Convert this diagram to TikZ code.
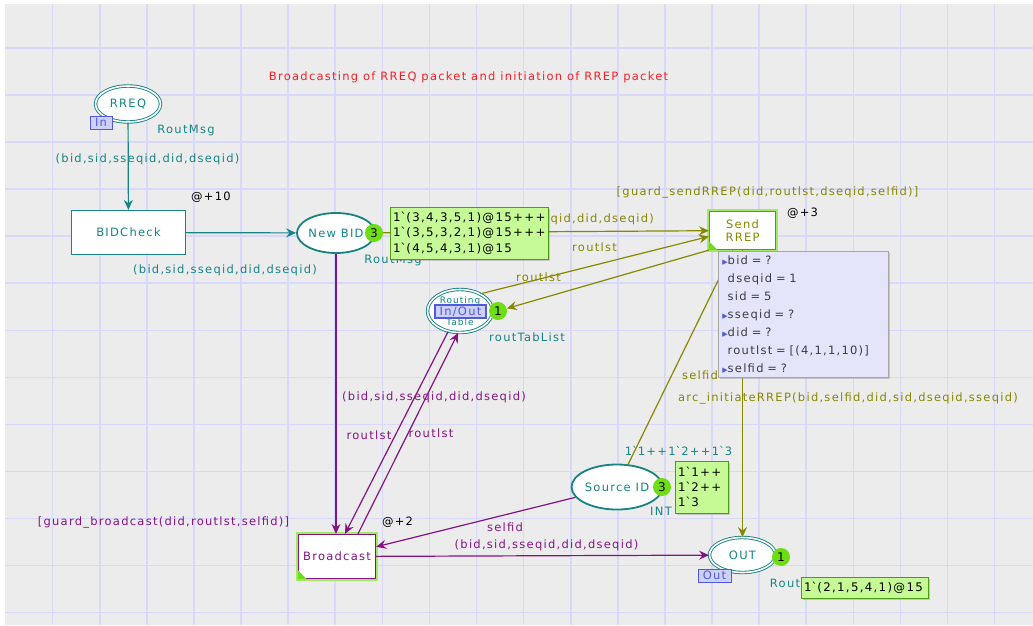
\documentclass[tikz,border=0pt]{standalone}
\usepackage{fontspec}
\setmainfont{DejaVu Sans}[LetterSpace=11]
\newfontfamily\tokfont{DejaVu Sans}
\usetikzlibrary{shapes.geometric,arrows.meta,calc,shadows}

\definecolor{cpnteal}{RGB}{22,132,132}
\definecolor{cpnolive}{RGB}{135,135,0}
\definecolor{cpnpurple}{RGB}{132,20,132}
\definecolor{cpnred}{RGB}{250,30,40}
\definecolor{bggray}{RGB}{236,236,236}
\definecolor{gridblue}{RGB}{216,216,252}
\definecolor{tokgreen}{RGB}{110,222,20}
\definecolor{boxgreen}{RGB}{198,250,150}
\definecolor{tagblue}{RGB}{80,90,220}
\definecolor{tagfill}{RGB}{205,208,250}
\definecolor{popfill}{RGB}{228,228,250}
\definecolor{poptext}{RGB}{60,60,70}

\newcommand{\bq}{\textasciigrave}
\newcommand{\tri}{{\color{tagblue}\tokfont\fontsize{7}{7}\selectfont ▶}}
\newcommand{\notri}{\phantom{\tri}}

\begin{document}
\begin{tikzpicture}[x=1pt,y=-1pt,
    font=\fontsize{11.5}{13}\selectfont,
    place/.style={ellipse, draw=cpnteal, line width=1.8pt, fill=white, text=cpnteal, inner sep=0pt},
    port/.style={place, line width=0.9pt, double=white, double distance=1.6pt},
    trans/.style={rectangle, draw, line width=1.3pt, fill=white, inner sep=0pt, align=center},
    enabled/.style={preaction={draw=tokgreen!65, line width=4.5pt}},
    token/.style={circle, fill=tokgreen, inner sep=0pt, minimum size=18pt,
      font=\tokfont\fontsize{12}{12}\selectfont},
    tokbox/.style={rectangle, fill=boxgreen, draw=tokgreen!70!black, line width=0.4pt,
      align=left, inner xsep=3pt, inner ysep=2pt,
      drop shadow={shadow xshift=1.5pt, shadow yshift=-1.5pt, opacity=0.35},
      font=\fontsize{11.8}{15.3}\selectfont},
    tag/.style={rectangle, draw=tagblue, fill=tagfill, text=tagblue, line width=0.8pt, inner sep=0pt},
    arc/.style={-{Stealth[length=10pt,width=9pt,inset=3.5pt]}, line width=1.2pt},
    lbl/.style={inner sep=0pt},
  ]

\useasboundingbox (0,0) rectangle (1033,625);

  % Background and grid
  \fill[white] (0,0) rectangle (1033,625);
  \fill[bggray] (5,4) rectangle (1033,625);
  \foreach \k in {1,...,21}
  \draw[gridblue, line width=1.6pt] ({5.5+47.1*\k},4) -- ({5.5+47.1*\k},625);
  \foreach \k in {0,...,12}
  \draw[gridblue, line width=1.6pt] (5,{48+47.05*\k}) -- (1033,{48+47.05*\k});

  % Title
  \node[lbl, text=cpnred] (title) at (468.5,77) {Broadcasting of RREQ packet and initiation of RREP packet};

  % Places
  \node[port, minimum width=65pt, minimum height=36pt] (rreq) at (128,104) {RREQ};
  \node[place, minimum width=65pt, minimum height=40pt] (newbid) at (336,233) {New BID};
  \node[port, minimum width=65pt, minimum height=43pt, align=center, font=\fontsize{9}{22}\selectfont] (rtab) at (460,311) {Routing\\Table};
  \node[place, minimum width=78pt, minimum height=45pt] (srcid) at (617,487) {Source ID};
  \node[port, minimum width=66pt, minimum height=35pt] (out) at (742.5,555) {OUT};

  % Transitions
  \node[trans, draw=cpnteal, text=cpnteal, minimum width=114pt, minimum height=44pt] (bidcheck) at (128.5,232.5) {BIDCheck};
  \node[trans, enabled, draw=cpnolive, text=cpnolive, minimum width=66pt, minimum height=38pt] (sendrrep) at (742.5,230.5) {Send\\RREP};
  \node[trans, enabled, draw=cpnpurple, text=cpnpurple, minimum width=77pt, minimum height=44pt] (bcast) at (337,556.5) {Broadcast};
  \fill[tokgreen] (sendrrep.south west) -- ++(9,0) -- ++(-9,-9) -- cycle;
  \fill[tokgreen] (bcast.south west) -- ++(9,0) -- ++(-9,-9) -- cycle;

  % Teal arcs
  \draw[arc, cpnteal] (rreq) -- (bidcheck);
  \draw[arc, cpnteal] (bidcheck) -- (newbid);

  % Olive arcs
  \draw[arc, cpnolive] (newbid) -- (sendrrep);
  \draw[arc, cpnolive] (rtab.40) -- ($(sendrrep.west)+(0,6)$);
  \draw[arc, cpnolive] (srcid) -- (sendrrep);
  \draw[arc, cpnolive] (sendrrep) -- (out);

  % Purple arcs
  \draw[arc, cpnpurple] (newbid) -- (newbid |- bcast.north);
  \draw[arc, cpnpurple] (rtab.240) -- ($(bcast.north)+(8,0)$);
  \draw[arc, cpnpurple] ($(bcast.north)+(21,0)$) -- (rtab.265);
  \draw[arc, cpnpurple] (srcid) -- (bcast);
  \draw[arc, cpnpurple] (bcast) -- (out);

  % Port tags
  \node[tag, minimum width=22pt, minimum height=13pt] (intag) at (101,122.5) {In};
  \node[tag, minimum width=51pt, minimum height=13pt, line width=1.4pt] (iotag) at (460.5,311.5) {In/Out};
  \node[tag, minimum width=33pt, minimum height=13pt] (outtag) at (714.5,575.5) {Out};

  % Colour sets and initial markings
  \node[lbl, text=cpnteal] (rreqcs) at (186,130) {RoutMsg};
  \node[lbl, text=cpnteal] (newbidcs) at (393,260) {RoutMsg};
  \node[lbl, text=cpnteal] (rtabcs) at (527,337.5) {routTabList};
  \node[lbl, text=cpnteal] (srcidcs) at (661,511) {INT};
  \node[lbl, text=cpnteal] (srcidinit) at (678.5,451) {1\bq1++1\bq2++1\bq3};
  \node[lbl, text=cpnteal] (outcs) at (785,583) {Rout};

  % Arc inscriptions
  \node[lbl, text=cpnteal] (a1) at (147.5,159) {(bid,sid,sseqid,did,dseqid)};
  \node[lbl, text=cpnteal] (a2) at (225,270) {(bid,sid,sseqid,did,dseqid)};
  \node[lbl, text=cpnolive, anchor=east] (a3) at (654,219) {(bid,sid,sseqid,did,dseqid)};
  \node[lbl, text=cpnolive] (a4) at (594.5,247) {routlst};
  \node[lbl, text=cpnolive] (a5) at (538.5,277) {routlst};
  \node[lbl, text=cpnolive] (a6) at (700,375) {selfid};
  \node[lbl, text=cpnolive] (a7) at (848,398) {arc\_initiateRREP(bid,selfid,did,sid,dseqid,sseqid)};
  \node[lbl, text=cpnpurple] (a8) at (434,397) {(bid,sid,sseqid,did,dseqid)};
  \node[lbl, text=cpnpurple] (a9) at (369,435) {routlst};
  \node[lbl, text=cpnpurple] (a10) at (431,433) {routlst};
  \node[lbl, text=cpnpurple] (a11) at (505,527) {selfid};
  \node[lbl, text=cpnpurple] (a12) at (546.5,545) {(bid,sid,sseqid,did,dseqid)};

  % Guards and time delays
  \node[lbl, text=cpnolive] (g1) at (767.5,192) {[guard\_sendRREP(did,routlst,dseqid,selfid)]};
  \node[lbl, text=cpnpurple] (g2) at (163.5,522) {[guard\_broadcast(did,routlst,selfid)]};
  \node[lbl] (d1) at (211,197) {@+10};
  \node[lbl] (d2) at (802.5,213) {@+3};
  \node[lbl] (d3) at (397.5,522) {@+2};

  % Tokens and markings
  \node[token] (newbidtok) at (374,233) {3};
  \node[token] (rtabtok) at (498,311) {1};
  \node[token] (srcidtok) at (662,487) {3};
  \node[token] (outtok) at (781,557) {1};
  \draw[arc, cpnolive] (sendrrep.south west) -- (rtabtok);
  \node[tokbox, text width=152pt, minimum height=52pt] (newbidmark) at (469,233)
    {1\bq(3,4,3,5,1)@15+++\\1\bq(3,5,3,2,1)@15+++\\1\bq(4,5,4,3,1)@15};
  \node[tokbox, text width=47pt, minimum height=52pt] (srcidmark) at (701.5,487)
    {1\bq1++\\1\bq2++\\1\bq3};
  \node[tokbox, text width=121pt, minimum height=21pt] (outmark) at (864.5,587.5)
    {1\bq(2,1,5,4,1)@15};

  % Bindings of Send RREP
  \node[rectangle, anchor=north west, fill=popfill, draw=black!35, line width=0.6pt,
    text width=162pt, minimum height=126pt, align=left, text=poptext, inner sep=4pt,
    drop shadow={shadow xshift=2pt, shadow yshift=-2pt, opacity=0.35},
    font=\fontsize{11.5}{18}\selectfont] (bind) at (718,251)
    {\tri bid = ?\\\notri dseqid = 1\\\notri sid = 5\\\tri sseqid = ?\\\tri did = ?\\\notri routlst = [(4,1,1,10)]\\\tri selfid = ?};

\end{tikzpicture}
\end{document}
